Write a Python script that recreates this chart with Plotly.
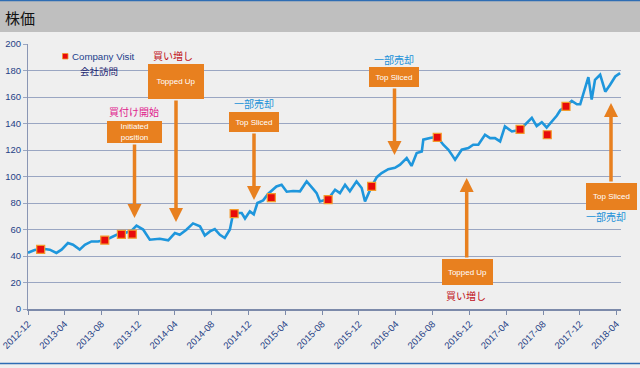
import plotly.graph_objects as go

# ---------------- data ----------------
dates = [
    "2012-12-01", "2012-12-23", "2013-01-12", "2013-01-25", "2013-02-11", "2013-03-05",
    "2013-03-22", "2013-04-12", "2013-04-29", "2013-05-21", "2013-06-07", "2013-06-29",
    "2013-07-21", "2013-08-12", "2013-08-29", "2013-09-20", "2013-10-06", "2013-10-23",
    "2013-11-08", "2013-11-25", "2013-12-17", "2014-01-08", "2014-02-10", "2014-03-10",
    "2014-04-01", "2014-04-17", "2014-05-09", "2014-05-31", "2014-06-23", "2014-07-09",
    "2014-07-26", "2014-08-11", "2014-08-28", "2014-09-13", "2014-09-30", "2014-10-11",
    "2014-11-08", "2014-11-19", "2014-12-05", "2014-12-18", "2014-12-30", "2015-01-18",
    "2015-02-04", "2015-03-03", "2015-03-20", "2015-04-06", "2015-04-27", "2015-05-20",
    "2015-06-11", "2015-07-03", "2015-07-14", "2015-07-25", "2015-08-21", "2015-09-13",
    "2015-09-29", "2015-10-16", "2015-11-01", "2015-11-23", "2015-12-10", "2015-12-21",
    "2016-01-12", "2016-01-29", "2016-02-14", "2016-03-07", "2016-03-29", "2016-04-15",
    "2016-05-07", "2016-05-23", "2016-06-09", "2016-06-26", "2016-07-01", "2016-07-23",
    "2016-08-16", "2016-09-05", "2016-09-22", "2016-10-03", "2016-10-14", "2016-11-05",
    "2016-11-27", "2016-12-13", "2016-12-30", "2017-01-21", "2017-02-07", "2017-02-23",
    "2017-03-12", "2017-03-28", "2017-04-20", "2017-05-17", "2017-06-08", "2017-06-25",
    "2017-07-11", "2017-07-28", "2017-08-13", "2017-08-30", "2017-09-16", "2017-09-27",
    "2017-10-16", "2017-11-04", "2017-11-21", "2017-12-02", "2017-12-13", "2017-12-29",
    "2018-01-09", "2018-01-20", "2018-02-06", "2018-02-23", "2018-03-11", "2018-03-28",
    "2018-04-13",
]
price = [
    42.5, 44.5, 45.0, 45.3, 44.8, 42.3,
    44.8, 49.8, 48.5, 44.8, 48.5, 51.0,
    51.0, 52.0, 53.6, 56.0, 56.5, 57.8,
    59.0, 62.9, 60.0, 52.3, 53.0, 51.8,
    57.3, 56.0, 59.8, 64.6, 62.4, 55.5,
    58.6, 60.3, 56.0, 53.6, 60.0, 72.4,
    72.4, 68.3, 73.7, 71.5, 80.0, 82.0,
    87.0, 92.5, 93.8, 88.5, 89.0, 88.8,
    96.3, 90.5, 87.5, 81.2, 83.0, 90.0,
    87.5, 93.8, 88.8, 96.3, 91.3, 81.2,
    92.5, 99.5, 102.6, 105.5, 106.5, 108.9,
    113.9, 108.0, 117.7, 118.9, 127.8, 129.0,
    130.0, 124.0, 120.2, 116.5, 112.7, 120.2,
    121.5, 124.0, 124.0, 131.5, 129.0, 129.0,
    126.5, 137.8, 134.0, 135.3, 140.4, 144.2,
    138.0, 141.0, 137.0, 141.6, 146.0, 150.0,
    153.0, 157.0, 154.5, 154.5, 163.0, 175.0,
    158.0, 173.0, 176.8, 164.0, 169.3, 175.5,
    178.0,
]
visit_dates = [
    "2013-01-12", "2013-08-12", "2013-10-06", "2013-11-11", "2014-10-14", "2015-02-14",
    "2015-08-21", "2016-01-12", "2016-08-16", "2017-05-17", "2017-08-15", "2017-10-16",
]
visit_price = [45.0, 52.0, 56.3, 56.5, 72.0, 84.0, 82.5, 92.5, 129.5, 135.5, 131.5, 153.0]

y_ticks = [0, 20, 40, 60, 80, 100, 120, 140, 160, 180, 200]
title_text = "株価"
legend_en = "Company Visit"
legend_jp = "会社訪問"

# ---------------- layout helpers ----------------
W, H = 640, 368
L, R, T, B = 28, 19, 44, 59
PW, PH = W - L - R, H - T - B


def px(x):
    return (x - L) / PW


def py(y):
    return (H - B - y) / PH


ORANGE = "#E8801F"
BLUE_LINE = "#1E96DC"
GRID = "#9AA6C2"
SANS = "Liberation Sans, Arial, sans-serif"
TICK_FONT = dict(family=SANS, size=9.5, color="#1F3F86")
JP = "Noto Sans CJK JP, sans-serif"

fig = go.Figure()
fig.add_trace(go.Scatter(
    x=dates, y=price, mode="lines",
    line=dict(color=BLUE_LINE, width=2.6),
    showlegend=False, hoverinfo="skip",
))
fig.add_trace(go.Scatter(
    x=visit_dates, y=visit_price, mode="markers",
    marker=dict(symbol="square", size=8, color="#E80A0A",
                line=dict(color="#F39A2A", width=1.2)),
    showlegend=False, hoverinfo="skip",
))

shapes = [
    # header bar
    dict(type="rect", xref="paper", yref="paper", x0=px(0), x1=px(W), y0=py(32), y1=py(1),
         fillcolor="#BFBFBF", line=dict(width=0), layer="below"),
    # top and bottom frame lines
    dict(type="line", xref="paper", yref="paper", x0=px(0), x1=px(W), y0=py(0.5), y1=py(0.5),
         line=dict(color="#2E6DB4", width=1.5)),
    dict(type="line", xref="paper", yref="paper", x0=px(0), x1=px(W), y0=py(363.5), y1=py(363.5),
         line=dict(color="#2E6DB4", width=1.5)),
    # legend square
    dict(type="rect", xref="paper", yref="paper", x0=px(62.5), x1=px(68), y0=py(59), y1=py(53.5),
         fillcolor="#E80A0A", line=dict(color="#F39A2A", width=0.8)),
]

annotations = [
    dict(text=title_text, xref="paper", yref="paper", x=px(3), y=py(17), xanchor="left",
         yanchor="middle", showarrow=False, font=dict(family=JP, size=15, color="#111111")),
    dict(text=legend_en, xref="paper", yref="paper", x=px(69.5), y=py(56.5), xanchor="left",
         yanchor="middle", showarrow=False,
         font=dict(family=SANS, size=9.7, color="#22408C")),
    dict(text=legend_jp, xref="paper", yref="paper", x=px(98.5), y=py(71), xanchor="center",
         yanchor="middle", showarrow=False, font=dict(family=JP, size=9.5, color="#1A2470")),
]

# arrows: (x, tip_y, tail_y)
arrows = [(134.5, 218, 143), (176, 222, 99), (254, 200, 132),
          (394.5, 155, 87), (466.7, 178, 259), (611, 103, 183)]
for x, tip, tail in arrows:
    annotations.append(dict(
        text="", xref="paper", yref="paper", x=px(x), y=py(tip), ax=0, ay=tail - tip,
        showarrow=True, arrowhead=2, arrowsize=0.8, arrowwidth=3.5, arrowcolor=ORANGE,
        standoff=0, startstandoff=0,
    ))

# boxes: (text, cx, cy, w, h)
boxes = [("Initiated<br>position", 134.5, 131.5, 55, 22),
         ("Topped Up", 176, 81, 56, 35),
         ("Top Sliced", 254, 122, 50, 20),
         ("Top Sliced", 394, 77, 50, 20),
         ("Topped Up", 467.5, 272, 51, 26),
         ("Top Sliced", 611.5, 196.5, 51, 27)]
for text, cx, cy, w, h in boxes:
    annotations.append(dict(
        text=text, xref="paper", yref="paper", x=px(cx), y=py(cy), xanchor="center",
        yanchor="middle", showarrow=False, bgcolor=ORANGE, width=w, height=h,
        borderpad=0, borderwidth=0,
        font=dict(family=SANS, size=8, color="white"),
    ))

# Japanese labels: (text, cx, cy, color)
labels = [("買付け開始", 134, 111.5, "#E0208C"),
          ("買い増し", 173, 55, "#C0101A"),
          ("一部売却", 254, 104, "#2090D8"),
          ("一部売却", 394, 59, "#2090D8"),
          ("買い増し", 466, 295, "#C0101A"),
          ("一部売却", 606, 216.5, "#2090D8")]
for text, cx, cy, col in labels:
    annotations.append(dict(
        text=text, xref="paper", yref="paper", x=px(cx), y=py(cy), xanchor="center",
        yanchor="middle", showarrow=False, font=dict(family=JP, size=10, color=col),
    ))

fig.update_layout(
    width=W, height=H,
    margin=dict(l=L, r=R, t=T, b=B, pad=0, autoexpand=False),
    paper_bgcolor="#EFEFEF", plot_bgcolor="#EFEFEF",
    shapes=shapes, annotations=annotations,
    showlegend=False,
    xaxis=dict(
        type="date", range=["2012-12-01", "2018-04-16"], automargin=False,
        tick0="2012-12-01", dtick="M4", tickformat="%Y-%m", tickangle=-45,
        tickfont=TICK_FONT, showgrid=False, showline=True, linecolor="#7C8AAA",
        linewidth=1.5, ticks="outside", ticklen=4, tickcolor="#7C8AAA", zeroline=False,
    ),
    yaxis=dict(
        range=[0, 200], tickvals=y_ticks, tickfont=TICK_FONT, showgrid=True, automargin=False,
        gridcolor=GRID, gridwidth=1, showline=True, linecolor="#8A96B4", linewidth=1,
        ticks="outside", ticklen=4, tickcolor=GRID, zeroline=False,
    ),
)

fig.write_html(
    "out.html",
    config={"displayModeBar": False},
    post_script="document.body.style.margin='0';document.body.style.background='#EFEFEF';",
)
